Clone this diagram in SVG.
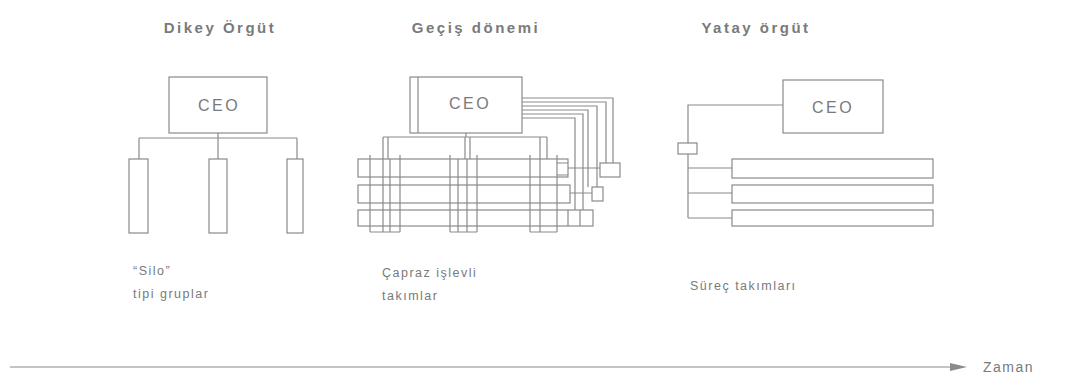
<svg xmlns="http://www.w3.org/2000/svg" width="1066" height="378" viewBox="0 0 1066 378">
<style>
.s{fill:none;stroke:#8a8a8a;stroke-width:1.2}
.b{fill:#fff;stroke:#8a8a8a;stroke-width:1.2}
.t{font-family:"Liberation Sans",Arial,sans-serif;font-weight:bold;font-size:15px;letter-spacing:2.5px;fill:#7a7a7a;text-anchor:middle}
.c{font-family:"Liberation Sans",Arial,sans-serif;font-size:16px;letter-spacing:2.5px;fill:#7a7a7a;text-anchor:middle}
.l{font-family:"Liberation Sans",Arial,sans-serif;font-size:12.5px;letter-spacing:1.5px;fill:#7a7a7a}
</style>
<rect width="1066" height="378" fill="#fff"/>
<g id="titles">
<text class="t" x="220" y="33">Dikey Örgüt</text>
<text class="t" x="476" y="33">Geçiş dönemi</text>
<text class="t" x="756" y="33">Yatay örgüt</text>
</g>
<g id="connectors">
<!-- left -->
<path class="s" d="M218,133V138M139,138H297M139,138V159M218,138V159M297,138V159"/>
<!-- middle -->
<path class="s" d="M466,133V137M383,137H547M383,137V159M388,137V159M465,137V159M470,137V159M540,137V159M547,137V159"/>
<path class="s" d="M522,98H613V163M522,102H606V163M522,106H597V187M522,110H588V187M522,114H583V210M522,118H575V210"/>
<path class="s" d="M568,168H600M570,193H592"/>
<!-- right -->
<path class="s" d="M783,105H688V143M688,154V218M688,168H732M688,193H732M688,218H732"/>
<!-- time axis -->
<path class="s" d="M10,367H952"/>
<polygon points="950,363 967,367 950,371" fill="#8a8a8a"/>
</g>
<g id="left-ceo">
<rect class="b" x="169" y="77" width="98" height="56"/>
<text class="c" x="219" y="111">CEO</text>
</g>
<g id="left-silo-1"><rect class="b" x="129" y="159" width="19" height="74"/></g>
<g id="left-silo-2"><rect class="b" x="209" y="159" width="18" height="74"/></g>
<g id="left-silo-3"><rect class="b" x="287" y="159" width="16" height="74"/></g>
<g id="mid-ceo">
<rect class="b" x="410" y="77" width="112" height="56"/>
<path class="s" d="M418,77V133"/>
<text class="c" x="470" y="109">CEO</text>
</g>
<g id="mid-rows">
<rect class="s" x="358" y="159" width="210" height="18"/>
<rect class="s" x="358" y="185" width="212" height="18"/>
<rect class="s" x="358" y="210" width="235" height="16"/>
<path class="s" d="M557,163H568M557,175H568M580,210V226M568,210V226"/>
</g>
<g id="mid-columns">
<path class="s" d="M370,155V232M383,159V232M390,159V232M400,155V232M370,232H400"/>
<path class="s" d="M450,155V232M458,159V232M467,159V232M477,155V232M450,232H477"/>
<path class="s" d="M530,155V232M540,159V232M557,155V232M530,232H557"/>
</g>
<g id="mid-small-1"><rect class="b" x="600" y="163" width="20" height="14"/></g>
<g id="mid-small-2"><rect class="b" x="592" y="187" width="11" height="14"/></g>
<g id="right-ceo">
<rect class="b" x="783" y="80" width="100" height="53"/>
<text class="c" x="833" y="113">CEO</text>
</g>
<g id="right-hub"><rect class="b" x="678" y="143" width="19" height="11"/></g>
<g id="right-team-1"><rect class="b" x="732" y="159" width="201" height="19"/></g>
<g id="right-team-2"><rect class="b" x="732" y="185" width="201" height="18"/></g>
<g id="right-team-3"><rect class="b" x="732" y="210" width="201" height="16"/></g>
<g id="labels">
<text class="l" x="133" y="275">“Silo”</text>
<text class="l" x="133" y="298">tipi gruplar</text>
<text class="l" x="382" y="277">Çapraz işlevli</text>
<text class="l" x="382" y="300">takımlar</text>
<text class="l" x="690" y="290">Süreç takımları</text>
<text class="l" x="983" y="372" style="font-size:14px">Zaman</text>
</g>
</svg>
